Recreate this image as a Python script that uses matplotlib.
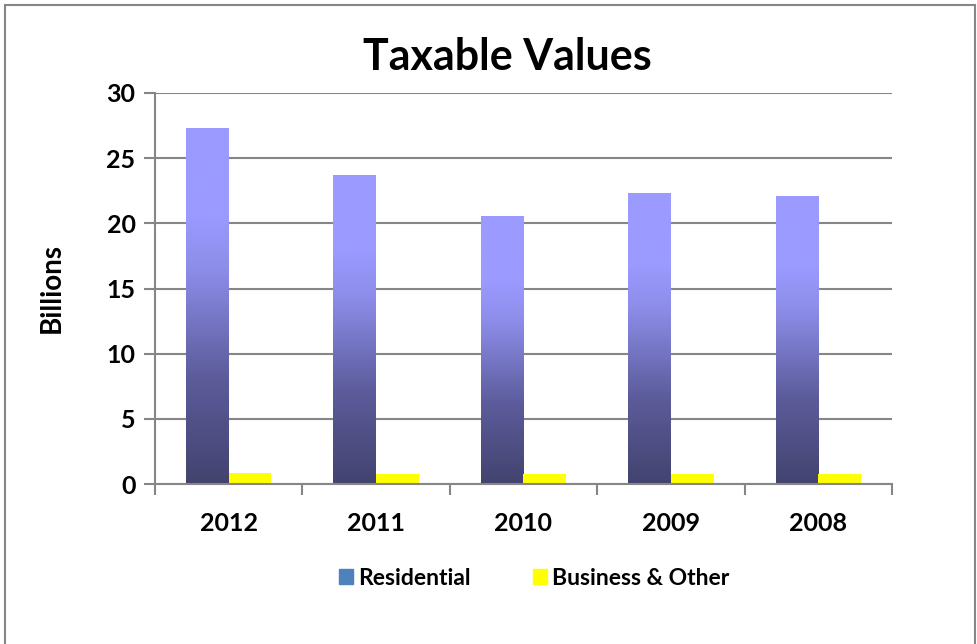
import matplotlib.pyplot as plt
from matplotlib.patches import Rectangle
from matplotlib.colors import LinearSegmentedColormap
import numpy as np

years = ["2012", "2011", "2010", "2009", "2008"]
residential = [27.3, 23.7, 20.6, 22.3, 22.1]
business = [0.85, 0.8, 0.8, 0.75, 0.75]

plt.rcParams['font.family'] = ['Lato', 'DejaVu Sans']
plt.rcParams['font.weight'] = 'bold'

fig = plt.figure(figsize=(9.77, 6.44), dpi=100)
ax = fig.add_axes([0.1586, 0.2484, 0.7544, 0.6072])

# gradient for residential bars: light on top, dark at bottom
grad = LinearSegmentedColormap.from_list(
    "res", [(0, "#43436f"), (0.3, "#5c5c9c"), (0.6, "#8c8ce8"), (0.75, "#9a9aff"), (1, "#9a9aff")])
w = 0.29
x = np.arange(len(years))
bars = ax.bar(x - w/2, residential, width=w, color="none", zorder=2)
for b in bars:
    x0, y0 = b.get_x(), b.get_y()
    img = ax.imshow(np.linspace(0, 1, 256).reshape(-1, 1), cmap=grad, origin="lower",
                    aspect="auto", extent=[x0, x0 + b.get_width(), y0, y0 + b.get_height()],
                    zorder=2)
    img.set_clip_path(b)
ax.bar(x + w/2, business, width=w, color="#ffff00", zorder=2)

ax.set_xlim(-0.5, len(years) - 0.5)
ax.set_ylim(0, 30)
ax.set_yticks(range(0, 31, 5))
ax.set_xticks(x)
ax.set_xticklabels(years)
ax.set_xticks(np.arange(-0.5, len(years), 1), minor=True)
ax.tick_params(axis="x", which="major", length=0, pad=20, labelsize=18)
ax.tick_params(axis="x", which="minor", length=8, color="#868686", width=1.5)
ax.tick_params(axis="y", length=8, color="#868686", width=1.5, labelsize=18, pad=6)
for lab in ax.get_xticklabels() + ax.get_yticklabels():
    lab.set_fontweight("bold")
ax.yaxis.grid(True, color="#868686", linewidth=1.5, zorder=0)
ax.set_axisbelow(True)
for s in ["top", "right"]:
    ax.spines[s].set_visible(False)
for s in ["left", "bottom"]:
    ax.spines[s].set_color("#868686")
    ax.spines[s].set_linewidth(1.5)

fig.text(52/977, 1 - 288/644, "Billions", rotation=90, ha="center", va="center",
         fontsize=20, fontweight="bold")
fig.text(0.519, 0.911, "Taxable Values", ha="center", va="center",
         fontsize=31, fontweight="bold")

# legend
h1 = Rectangle((0, 0), 1, 1, color="#4f81bd")
h2 = Rectangle((0, 0), 1, 1, color="#ffff00")
fig.legend([h1, h2], ["Residential", "Business & Other"], loc="center",
           bbox_to_anchor=(0.547, 0.102), ncol=2, frameon=False,
           handlelength=0.6, handleheight=0.6, handletextpad=0.25, columnspacing=2.7,
           prop={"weight": "bold", "size": 16.5})

# outer frame
fig.patches.append(Rectangle((5/977, -0.1), 970/977, 1 - 5/644 + 0.1, transform=fig.transFigure,
                             fill=False, edgecolor="#868686", linewidth=1.5))

plt.savefig("out.png", dpi=100)
